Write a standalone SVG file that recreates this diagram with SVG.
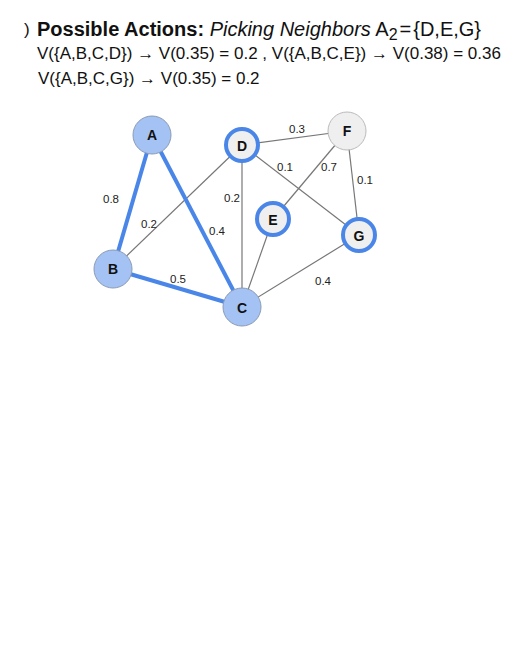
<svg xmlns="http://www.w3.org/2000/svg" width="506" height="653" viewBox="0 0 506 653">
<style>
.t{font-family:"Liberation Sans",Arial,sans-serif;fill:#111}
.e{stroke:#777;stroke-width:1.2;fill:none}
.h{stroke:#4a86e8;stroke-width:4;fill:none}
.lab{font-family:"Liberation Sans",Arial,sans-serif;font-size:11.5px;fill:#222;text-anchor:middle;dominant-baseline:central}
.nl{font-family:"Liberation Sans",Arial,sans-serif;font-size:14px;font-weight:bold;fill:#111;text-anchor:middle;dominant-baseline:central}
.blue{fill:#a4c2f4;stroke:#8a9bb5;stroke-width:1}
.sel{fill:#efefef;stroke:#4a86e8;stroke-width:4}
.gr{fill:#efefef;stroke:#bbbbbb;stroke-width:1}
</style>
<rect width="506" height="653" fill="#ffffff"/>
<g id="title">
<text class="t" x="24" y="35" font-size="17">)</text>
<text class="t" x="37" y="36" font-size="20"><tspan font-weight="bold">Possible Actions:</tspan> <tspan font-style="italic">Picking Neighbors</tspan> A<tspan font-size="16" dy="4">2</tspan><tspan dy="-4" dx="2">=</tspan><tspan dx="2">{D,E,G}</tspan></text>
<text class="t" x="37" y="59" font-size="17">V({A,B,C,D}) → V(0.35) = 0.2 , V({A,B,C,E}) → V(0.38) = 0.36</text>
<text class="t" x="38" y="84" font-size="17">V({A,B,C,G}) → V(0.35) = 0.2</text>
</g>
<g id="connectors">
<line class="e" x1="113" y1="269" x2="242" y2="145"/>
<line class="e" x1="242" y1="145" x2="242" y2="307"/>
<line class="e" x1="242" y1="145" x2="347" y2="131"/>
<line class="e" x1="242" y1="145" x2="359" y2="235"/>
<line class="e" x1="347" y1="131" x2="273" y2="219"/>
<line class="e" x1="347" y1="131" x2="359" y2="235"/>
<line class="e" x1="273" y1="219" x2="242" y2="307"/>
<line class="e" x1="359" y1="235" x2="242" y2="307"/>
<line class="h" x1="152" y1="135" x2="113" y2="269"/>
<line class="h" x1="152" y1="135" x2="242" y2="307"/>
<line class="h" x1="113" y1="269" x2="242" y2="307"/>
<text class="lab" x="111" y="199">0.8</text>
<text class="lab" x="149" y="224">0.2</text>
<text class="lab" x="232" y="198">0.2</text>
<text class="lab" x="217" y="231">0.4</text>
<text class="lab" x="178" y="279">0.5</text>
<text class="lab" x="297" y="129">0.3</text>
<text class="lab" x="285" y="167">0.1</text>
<text class="lab" x="329" y="167">0.7</text>
<text class="lab" x="365" y="180">0.1</text>
<text class="lab" x="323" y="281">0.4</text>
</g>
<g id="node-A"><circle class="blue" cx="152" cy="135" r="19"/><text class="nl" x="152" y="135">A</text></g>
<g id="node-B"><circle class="blue" cx="113" cy="269" r="19"/><text class="nl" x="113" y="269">B</text></g>
<g id="node-C"><circle class="blue" cx="242" cy="307" r="19"/><text class="nl" x="242" y="308">C</text></g>
<g id="node-D"><circle class="sel" cx="242" cy="145" r="16"/><text class="nl" x="242" y="146">D</text></g>
<g id="node-E"><circle class="sel" cx="273" cy="219" r="16"/><text class="nl" x="273" y="220">E</text></g>
<g id="node-F"><circle class="gr" cx="347" cy="131" r="19"/><text class="nl" x="347" y="131">F</text></g>
<g id="node-G"><circle class="sel" cx="359" cy="235" r="16"/><text class="nl" x="359" y="236">G</text></g>
</svg>
